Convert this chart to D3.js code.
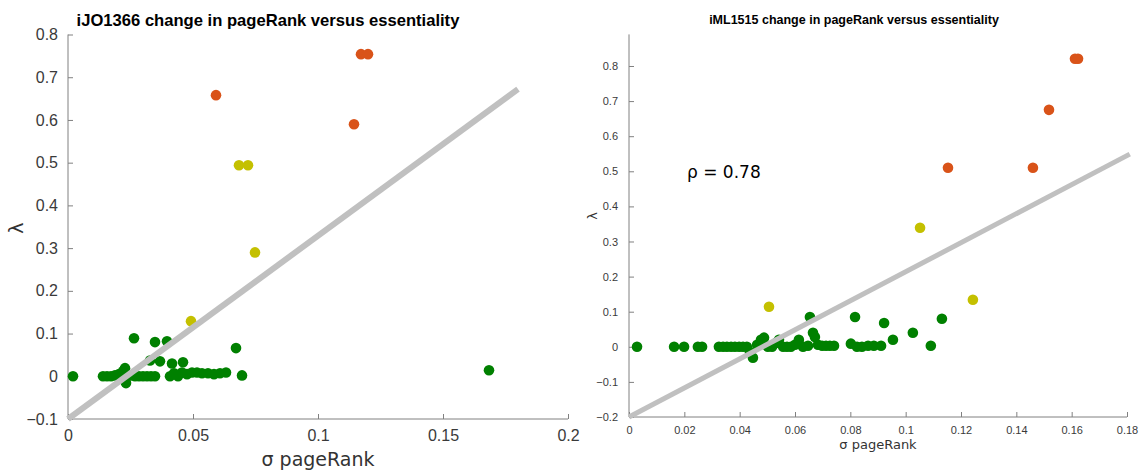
<!DOCTYPE html>
<html>
<head>
<meta charset="utf-8">
<script src="https://cdn.jsdelivr.net/npm/d3@7"></script>
<style>
  body { margin: 0; background: #fff; }
  svg { display: block; }
</style>
</head>
<body>
<div id="chart"></div>
<script>
const width = 1139
const height = 470

// iJO1366 panel: [sigma pageRank, lambda]
const ijoOrange = [[0.0592, 0.658], [0.1172, 0.754], [0.120, 0.754], [0.1144, 0.590]]
const ijoYellow = [[0.0684, 0.494], [0.072, 0.494], [0.0748, 0.290], [0.0492, 0.129]]
const ijoGreen = [
    [0.002, 0], [0.014, 0], [0.0156, 0], [0.0172, 0], [0.0188, 0.002], [0.0204, 0.005],
    [0.022, 0.012], [0.0228, 0.019], [0.0232, -0.016], [0.0236, 0], [0.0252, 0.002],
    [0.0264, 0.089], [0.0268, 0], [0.0284, 0], [0.030, 0], [0.0316, 0], [0.0328, 0.037],
    [0.0332, 0], [0.0348, 0.080], [0.0348, 0], [0.0368, 0.035], [0.0396, 0.082],
    [0.0408, 0], [0.0416, 0.030], [0.0424, 0.007], [0.044, 0], [0.0456, 0.009],
    [0.046, 0.033], [0.0476, 0.005], [0.0496, 0.009], [0.0516, 0.009], [0.0536, 0.007],
    [0.056, 0.007], [0.0584, 0.005], [0.0608, 0.007], [0.0632, 0.009], [0.0672, 0.066],
    [0.0696, 0.002], [0.1684, 0.014]
]
const ijoFit = [[0, -0.1], [0.18, 0.672]]
const ijoXTicks = [0, 0.05, 0.1, 0.15, 0.2]
const ijoYTicks = [-0.1, 0, 0.1, 0.2, 0.3, 0.4, 0.5, 0.6, 0.7, 0.8]

// iML1515 panel
const imlOrange = [[0.1612, 0.8205], [0.1623, 0.8205], [0.1518, 0.675], [0.1153, 0.510], [0.146, 0.510]]
const imlYellow = [[0.1052, 0.339], [0.1243, 0.134], [0.0506, 0.114]]
const imlGreen = [
    [0.0029, 0], [0.0163, 0], [0.0199, 0], [0.0249, 0], [0.0264, 0],
    [0.0325, 0], [0.0340, 0], [0.0354, 0], [0.0369, 0], [0.0383, 0], [0.0398, 0],
    [0.0412, 0], [0.0426, 0], [0.0437, -0.014], [0.0448, -0.031], [0.0463, 0.006],
    [0.0477, 0.020], [0.0488, 0.026], [0.0502, 0], [0.0517, 0], [0.0531, 0.011],
    [0.0542, 0.020], [0.0557, 0], [0.0571, 0], [0.0585, 0], [0.0600, 0.006],
    [0.0614, 0.020], [0.0629, 0], [0.0647, 0.003], [0.0654, 0.085], [0.0665, 0.040],
    [0.0672, 0.028], [0.0683, 0.006], [0.0698, 0.003], [0.0712, 0.003], [0.0726, 0.003],
    [0.0741, 0.003], [0.0802, 0.009], [0.0817, 0.085], [0.0824, 0], [0.0842, 0],
    [0.0864, 0.003], [0.0885, 0.003], [0.0911, 0.003], [0.0922, 0.068], [0.0954, 0.020],
    [0.1026, 0.040], [0.1091, 0.003], [0.1131, 0.080]
]
const imlFit = [[0, -0.2], [0.181, 0.549]]
const imlXTicks = [0, 0.02, 0.04, 0.06, 0.08, 0.1, 0.12, 0.14, 0.16, 0.18]
const imlYTicks = [-0.2, -0.1, 0, 0.1, 0.2, 0.3, 0.4, 0.5, 0.6, 0.7, 0.8]

const green = "#008000"
const yellow = "#c4c000"
const orange = "#d95319"

const svg = d3.select("#chart").append("svg")
    .attr("width", width)
    .attr("height", height)

function panel(cfg) {
    const x = d3.scaleLinear().domain(cfg.xDomain).range(cfg.xRange)
    const y = d3.scaleLinear().domain(cfg.yDomain).range(cfg.yRange)
    const g = svg.append("g")

    // axes, MATLAB style ticks pointing inward
    const xAxis = g.append("g")
        .attr("transform", `translate(0,${cfg.yRange[0]})`)
        .call(d3.axisBottom(x).tickValues(cfg.xTicks).tickSize(-cfg.tick).tickPadding(cfg.tick + cfg.xPad).tickFormat(d3.format("~g")))
    const yAxis = g.append("g")
        .attr("transform", `translate(${cfg.xRange[0]},0)`)
        .call(d3.axisLeft(y).tickValues(cfg.yTicks).tickSize(-cfg.tick).tickPadding(cfg.tick + cfg.yPad).tickFormat(d3.format("~g")))

    for (const ax of [xAxis, yAxis]) {
        ax.select(".domain").attr("stroke", "#808080")
        ax.selectAll(".tick line").attr("stroke", "#808080")
        ax.selectAll(".tick text")
            .attr("fill", "#3a3a3a")
            .style("font-family", "'Liberation Sans', Arial, sans-serif")
            .style("font-size", cfg.tickFont + "px")
    }
    xAxis.select(".domain").attr("d", `M${cfg.xRange[0]},0H${cfg.xRange[1]}`)
    yAxis.select(".domain").attr("d", `M0,${cfg.yRange[0]}V${cfg.yRange[1]}`)

    const dots = [[cfg.green, green], [cfg.yellow, yellow], [cfg.orange, orange]]
    for (const [pts, col] of dots) {
        g.append("g").selectAll("circle")
            .data(pts)
            .join("circle")
            .attr("cx", d => x(d[0]))
            .attr("cy", d => y(d[1]))
            .attr("r", cfg.r)
            .attr("fill", col)
    }

    g.append("path")
        .datum(cfg.fit)
        .attr("d", d3.line().x(d => x(d[0])).y(d => y(d[1])))
        .attr("stroke", "#c0c0c0")
        .attr("stroke-width", cfg.lineW)
        .attr("fill", "none")

    g.append("text")
        .attr("x", cfg.titleX)
        .attr("y", cfg.titleY)
        .attr("text-anchor", "middle")
        .style("font-family", "'Liberation Sans', Arial, sans-serif")
        .style("font-weight", "bold")
        .style("font-size", cfg.titleFont + "px")
        .attr("fill", "#000")
        .text(cfg.title)

    g.append("text")
        .attr("x", (cfg.xRange[0] + cfg.xRange[1]) / 2)
        .attr("y", cfg.xLabelY)
        .attr("text-anchor", "middle")
        .style("font-family", "'DejaVu Sans', sans-serif")
        .style("font-size", cfg.labelFont + "px")
        .attr("fill", "#333")
        .text("σ pageRank")

    g.append("text")
        .attr("transform", `translate(${cfg.yLabelX},${cfg.yLabelY}) rotate(-90)`)
        .attr("text-anchor", "middle")
        .style("font-family", "'DejaVu Sans', sans-serif")
        .style("font-size", cfg.labelFont + "px")
        .attr("fill", "#333")
        .text("λ")

    return {x, y, g}
}

panel({
    xDomain: [0, 0.2], xRange: [68, 568],
    yDomain: [-0.1, 0.8], yRange: [419, 34.5],
    xTicks: ijoXTicks, yTicks: ijoYTicks,
    green: ijoGreen, yellow: ijoYellow, orange: ijoOrange, fit: ijoFit,
    tick: 5, xPad: 6, yPad: 5, tickFont: 16, r: 5.3, lineW: 6,
    title: "iJO1366 change in pageRank versus essentiality", titleX: 268, titleY: 26, titleFont: 16.6,
    labelFont: 19, xLabelY: 466, yLabelX: 23, yLabelY: 228
})

const right = panel({
    xDomain: [0, 0.18], xRange: [629, 1127],
    yDomain: [-0.2, 0.89], yRange: [417, 34.4],
    xTicks: imlXTicks, yTicks: imlYTicks,
    green: imlGreen, yellow: imlYellow, orange: imlOrange, fit: imlFit,
    tick: 5, xPad: 4, yPad: 6, tickFont: 11, r: 5.3, lineW: 5,
    title: "iML1515 change in pageRank versus essentiality", titleX: 854, titleY: 24, titleFont: 12.5,
    labelFont: 13, xLabelY: 449, yLabelX: 597, yLabelY: 216
})

right.g.append("text")
    .attr("x", 687)
    .attr("y", 178)
    .style("font-family", "'DejaVu Sans', sans-serif")
    .style("font-size", "17px")
    .attr("fill", "#000")
    .text("ρ = 0.78")
</script>
</body>
</html>
